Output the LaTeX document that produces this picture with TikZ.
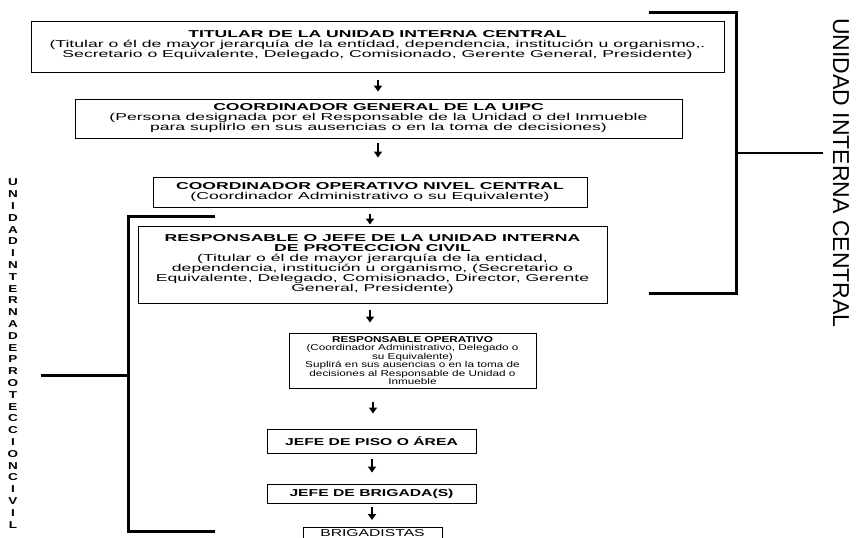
\documentclass[tikz,border=0pt]{standalone}
\usepackage{fontspec}
\setmainfont{Liberation Sans}
\newfontfamily\wideA{Liberation Sans}[FakeStretch=1.76]
\newfontfamily\wideB{Liberation Sans}[FakeStretch=1.57]
\newfontfamily\wideC{Liberation Sans}[FakeStretch=1.38]
\newfontfamily\wideD{Liberation Sans}[FakeStretch=1.35]
\newfontfamily\plainfont{Liberation Sans}
\usetikzlibrary{arrows.meta, calc}

\begin{document}
\begin{tikzpicture}[
    x=1pt, y=-1pt,
    box/.style={draw, line width=0.9pt, align=center, inner sep=0pt},
    fA/.style={font=\fontsize{10}{10}\wideA},
    fB/.style={font=\fontsize{10}{10}\wideB},
    fC/.style={font=\fontsize{8.5}{8.4}\wideC},
    arr/.style={line width=1.6pt, -{Triangle[width=8pt,length=6pt]}},
    bkt/.style={line width=3pt}
]
\useasboundingbox (0,0) rectangle (868,538);

% ===== 方框(自上而下)=====
\node[box, fA, minimum width=693pt, minimum height=51pt] (b1) at (377.5,46.5) {
    \textbf{TITULAR DE LA UNIDAD INTERNA CENTRAL}\\
    (Titular o él de mayor jerarquía de la entidad, dependencia, institución u organismo,.\\
    Secretario o Equivalente, Delegado, Comisionado, Gerente General, Presidente)\\[-5pt]};
\node[box, fA, minimum width=607pt, minimum height=39pt] (b2) at (378.5,118.5) {
    \textbf{COORDINADOR GENERAL DE LA UIPC}\\
    (Persona designada por el Responsable de la Unidad o del Inmueble\\
    para suplirlo en sus ausencias o en la toma de decisiones)};
\node[box, fA, minimum width=434pt, minimum height=30pt] (b3) at (370,192) {
    \textbf{COORDINADOR OPERATIVO NIVEL CENTRAL}\\
    (Coordinador Administrativo o su Equivalente)};
\node[box, fA, minimum width=469pt, minimum height=77pt] (b4) at (372.5,264.5) {
    \textbf{RESPONSABLE O JEFE DE LA UNIDAD INTERNA}\\
    \textbf{DE PROTECCION CIVIL}\\
    (Titular o él de mayor jerarquía de la entidad,\\
    dependencia, institución u organismo, (Secretario o\\
    Equivalente, Delegado, Comisionado, Director, Gerente\\
    General, Presidente)};
\node[box, fC, minimum width=247pt, minimum height=55pt] (b5) at (412.5,360.5) {
    \textbf{RESPONSABLE OPERATIVO}\\
    (Coordinador Administrativo, Delegado o\\
    su Equivalente)\\
    Suplirá en sus ausencias o en la toma de\\
    decisiones al Responsable de Unidad o\\
    Inmueble};
\node[box, fB, minimum width=209pt, minimum height=24pt] (b6) at (371.5,441) {\textbf{JEFE DE PISO O ÁREA}};
\node[box, fB, minimum width=209pt, minimum height=19pt] (b7) at (371.5,493.5) {\textbf{JEFE DE BRIGADA(S)}};
\node[box, fB, anchor=north, minimum width=139pt, inner ysep=2.5pt, text depth=14pt] (b8) at (372.5,527) {BRIGADISTAS};

% ===== 箭头 =====
\foreach \p/\q/\xx/\s/\e in {b1/b2/378/8/7, b2/b3/378/5/19, b3/b4/370/7/1, b4/b5/370/7/10,
                            b5/b6/373/14/15, b6/b7/372/6/11, b7/b8/372/4/7} {
    \draw[arr, shorten <=\s pt, shorten >=\e pt] (\p.south -| \xx,0) -- (\q.north -| \xx,0);
}

% ===== 括号 =====
\draw[bkt] (649,12) -- (736,12) -- (736,293) -- (649,293); % 右侧
\draw[line width=2pt] (736,153) -- (823,153);
\draw[bkt] (215,216) -- (128,216) -- (128,531) -- (215,531); % 左侧
\draw[bkt] (41,375) -- (128,375);

% ===== 侧边标签 =====
\node[rotate=-90, font=\fontsize{23}{23}\plainfont] (lblR) at (841,173) {UNIDAD INTERNA CENTRAL};
\node[align=center, font=\fontsize{10}{11.8}\wideD\bfseries] (lblL) at (13,353.5) {
    U\\N\\I\\D\\A\\D\\I\\N\\T\\E\\R\\N\\A\\D\\E\\P\\R\\O\\T\\E\\C\\C\\I\\O\\N\\C\\I\\V\\I\\L};

\end{tikzpicture}
\end{document}
